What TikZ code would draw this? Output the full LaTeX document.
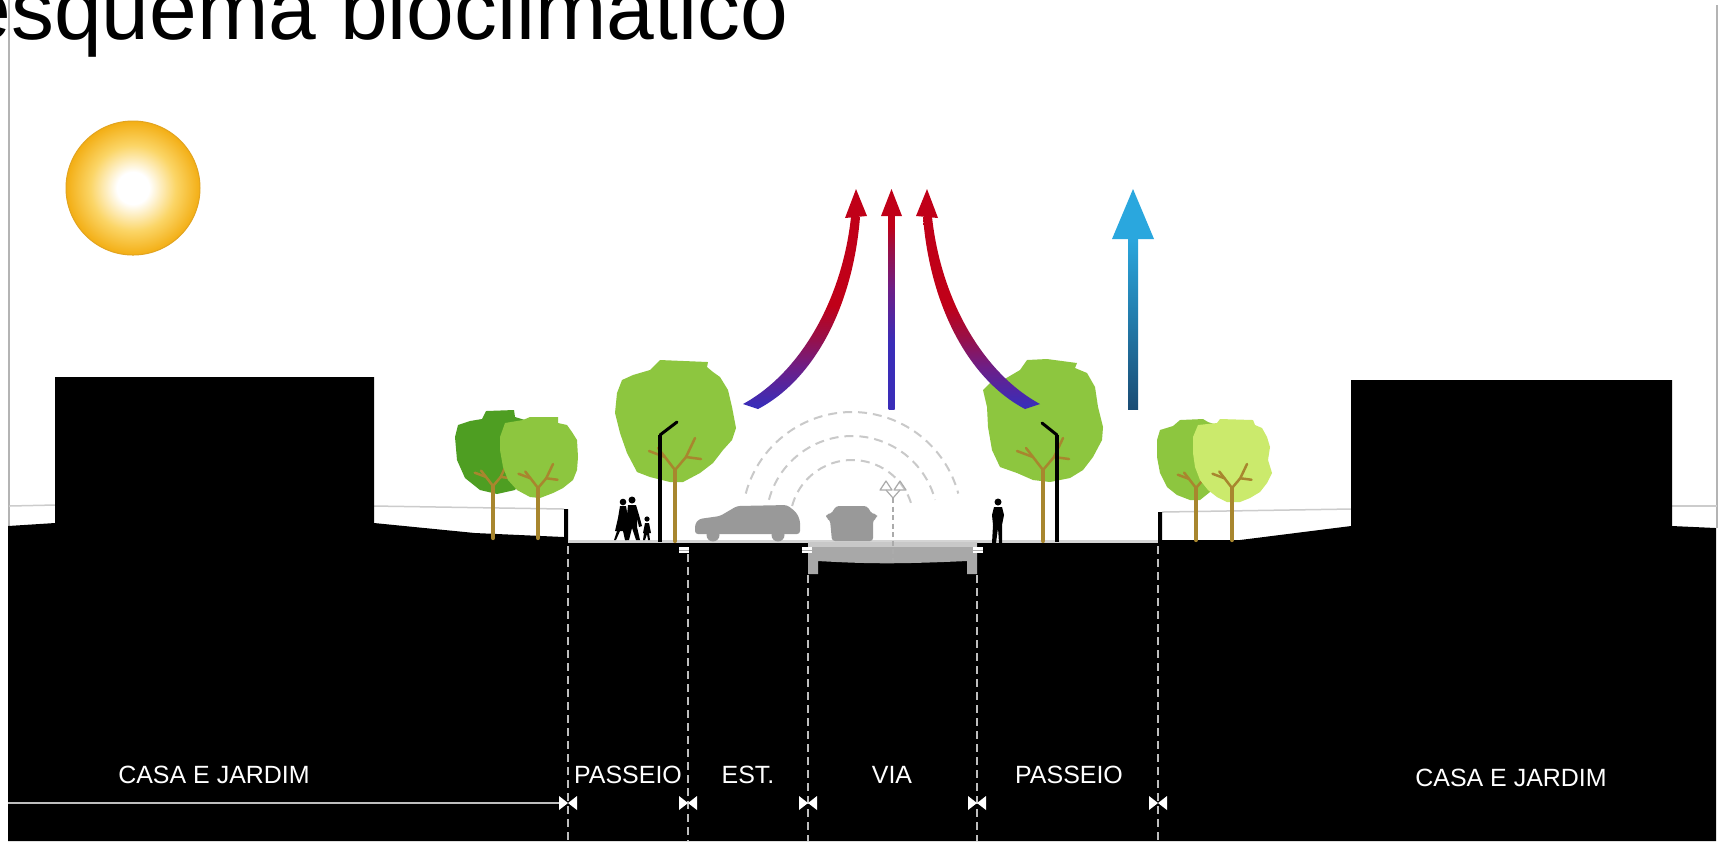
\documentclass[tikz,border=0pt]{standalone}
\usepackage{fontspec}
\setmainfont{Liberation Sans}
\usetikzlibrary{calc}

\definecolor{framegray}{HTML}{B4B4B4}
\definecolor{horizongray}{HTML}{CCCCCC}
\definecolor{dimgray}{HTML}{BEBEBE}
\definecolor{pavegray}{HTML}{D4D4D4}
\definecolor{slabgray}{HTML}{A8A8A8}
\definecolor{slabtop}{HTML}{C8C8C8}
\definecolor{cargray}{HTML}{999999}
\definecolor{wavegray}{HTML}{C9C9C9}
\definecolor{lampgray}{HTML}{ABABAB}
\definecolor{leafdark}{HTML}{4E9E22}
\definecolor{leafmid}{HTML}{8DC63F}
\definecolor{leaflight}{HTML}{CBEA6C}
\definecolor{trunkbrown}{HTML}{A8862E}
\definecolor{sunmid}{HTML}{FBD566}
\definecolor{sunedge}{HTML}{F3AE14}
\definecolor{sunrim}{HTML}{E2A420}
\definecolor{heatred}{HTML}{C00018}
\definecolor{heatwine}{HTML}{9A0F45}
\definecolor{heatmid}{HTML}{6E1E86}
\definecolor{heatblue}{HTML}{3A2DB8}
\definecolor{coolsky}{HTML}{2AA7DE}
\definecolor{cooldeep}{HTML}{1A4C74}

\pgfdeclareradialshading{sunglow}{\pgfpoint{0bp}{0bp}}{%
  color(0bp)=(white); color(6bp)=(white); color(16bp)=(sunmid);
  color(25bp)=(sunedge); color(50bp)=(sunedge)}
% warm air: blue at the foot, red over the upper half
\pgfdeclareverticalshading{heatrise}{100bp}{%
  color(0bp)=(heatblue); color(26bp)=(heatblue); color(36bp)=(heatmid);
  color(44bp)=(heatwine); color(52bp)=(heatred); color(100bp)=(heatred)}
\pgfdeclareverticalshading{heatcore}{100bp}{%
  color(0bp)=(heatblue); color(42bp)=(heatblue); color(56bp)=(heatmid);
  color(66bp)=(heatwine); color(72bp)=(heatred); color(100bp)=(heatred)}

\tikzset{
  groundfill/.style={fill=black},
  frameline/.style={draw=framegray, line width=0.2mm},
  horizonline/.style={draw=horizongray, line width=0.15mm},
  dimdash/.style={draw=dimgray, line width=0.13mm, dash pattern=on 0.8mm off 0.5mm},
  dimtick/.style={fill=white},
  zonelabel/.style={text=white, font=\fontsize{7.1pt}{8pt}\selectfont, inner sep=0pt},
  trunkline/.style={draw=trunkbrown, line width=0.42mm, line cap=round},
  twigline/.style={draw=trunkbrown, line width=0.25mm, line cap=round, line join=round},
  lamppole/.style={draw=black, line width=0.4mm},
  lamparm/.style={draw=black, line width=0.3mm, line cap=round},
  figure/.style={fill=black},
  carbody/.style={fill=cargray, rounded corners=0.3mm},
  wave/.style={draw=wavegray, line width=0.2mm, dash pattern=on 0.9mm off 0.6mm},
  lampline/.style={draw=lampgray, line width=0.12mm},
  coolshaft/.style={top color=coolsky, bottom color=cooldeep},
}

% forked branches of a tree: fork point (x,y) and size factor
\newcommand{\treebranches}[3]{%
  \draw[twigline] (#1,#2) -- ++(-10*#3,-13*#3) -- ++(-7*#3,-9*#3);
  \draw[twigline] ($(#1,#2)+(-10*#3,-13*#3)$) -- ++(-16*#3,-6*#3);
  \draw[twigline] (#1,#2) -- ++(11*#3,-13*#3) -- ++(9*#3,-19*#3);
  \draw[twigline] ($(#1,#2)+(11*#3,-13*#3)$) -- ++(15*#3,2*#3);
}

\begin{document}
\begin{tikzpicture}[x=0.1mm, y=-0.1mm, line join=round]
\useasboundingbox (0,0) rectangle (1723,841);
\fill[white] (0,0) rectangle (1723,841);

% title
\node[anchor=base east, inner sep=0pt, font=\fontsize{24.4pt}{28pt}\selectfont]
  (title) at (789,39) {esquema bioclimatico};

% frame lines and horizon
\draw[frameline] (9,0) -- (9,526);
\draw[frameline] (1717,5) -- (1717,528);
\draw[horizonline] (9,506) -- (55,505);
\draw[horizonline] (374,506) -- (564,509);
\draw[horizonline] (1162,512) -- (1351,509);
\draw[horizonline] (1672,506) -- (1717,506);

% sun
\shade[shading=sunglow] (133,188) circle[radius=67];
\draw[sunrim, line width=0.1mm] (133,188) circle[radius=67];

% ground section with the two houses
\fill[groundfill] (8,841) -- (8,526) -- (55,523) -- (55,377) -- (374,377) -- (374,523)
  -- (475,533) -- (564,537) -- (564,509) -- (568,509) -- (568,543) -- (1158,543)
  -- (1158,512) -- (1162,512) -- (1162,540) -- (1240,540) -- (1351,526) -- (1351,380)
  -- (1672,380) -- (1672,526) -- (1716,528) -- (1716,841) -- cycle;

% paving surface
\draw[pavegray, line width=0.25mm] (568,541.5) -- (1158,541.5);

% road slab
\fill[slabgray] (808,542) -- (977,542) -- (977,574) -- (967,574) -- (967,561)
  .. controls (900,564) and (870,564) .. (818,561) -- (818,574) -- (808,574) -- cycle;
\fill[slabtop] (808,542) rectangle (977,547);

% curb fittings
\foreach \cx in {684,807,978}{
  \fill[white] (\cx-5,547) rectangle (\cx+5,553);
  \draw[lampgray, line width=0.08mm] (\cx-5,550) -- (\cx+5,550);
}

% zone boundaries
\draw[dimdash] (568,546) -- (568,841);
\draw[dimdash] (688,554) -- (688,841);
\draw[dimdash] (808,575) -- (808,841);
\draw[dimdash] (977,575) -- (977,841);
\draw[dimdash] (1158,546) -- (1158,841);
\draw[dimgray, line width=0.2mm] (8,803) -- (566,803);
\foreach \tx in {568,688,808,977,1158}{
  \fill[dimtick] (\tx-9,796) -- (\tx,803) -- (\tx-9,810) -- cycle
                 (\tx+9,796) -- (\tx,803) -- (\tx+9,810) -- cycle;
}

% zone labels
\node[zonelabel] (casaL) at (214,775) {CASA E JARDIM};
\node[zonelabel] (passeioL) at (628,775) {PASSEIO};
\node[zonelabel] (est) at (748,775) {EST.};
\node[zonelabel] (via) at (892,775) {VIA};
\node[zonelabel] (passeioR) at (1069,775) {PASSEIO};
\node[zonelabel] (casaR) at (1511,778) {CASA E JARDIM};

% sound waves over the road
\foreach \r in {62,86,110}{
  \draw[wave] (852,522) ++(-165:\r) arc[start angle=-165, end angle=-15, radius=\r];
}

% central road lamp
\draw[lampline, dash pattern=on 0.5mm off 0.35mm] (893,498) -- (893,561);
\draw[lampline] (886,490) -- (893,498) -- (900,490);
\draw[lampline] (886,481) -- (880,490) -- (892,490) -- cycle;
\draw[lampline] (900,481) -- (894,490) -- (906,490) -- cycle;

% trees behind the left wall
\fill[leafdark] (455,437) -- (458,425) -- (470,421) -- (482,419) -- (486,411) -- (514,410)
  -- (515,417) -- (525,420) -- (530,440) -- (528,470) -- (515,490) -- (497,494)
  -- (480,490) -- (465,478) -- (457,460) -- cycle;
\draw[trunkline] (493,538) -- (493,486);
\treebranches{493}{486}{0.7}
\fill[leafmid] (500,437) -- (505,423) -- (523,420) -- (530,417) -- (558,417) -- (558,423)
  -- (567,425) -- (572,432) -- (577,440) -- (578,457) -- (577,470) -- (573,480)
  -- (563,488) -- (553,493) -- (540,498) -- (530,497) -- (517,490) -- (508,480)
  -- (503,467) -- (500,450) -- cycle;
\draw[trunkline] (538,538) -- (538,488);
\treebranches{538}{488}{0.75}

% large tree on the left sidewalk
\fill[leafmid] (617,393) -- (622,380) -- (633,375) -- (650,370) -- (660,360) -- (708,362)
  -- (707,367) -- (713,372) -- (720,377) -- (728,390) -- (732,407) -- (736,428)
  -- (732,440) -- (723,450) -- (713,463) -- (700,473) -- (683,482) -- (670,482)
  -- (650,477) -- (637,472) -- (627,453) -- (620,433) -- (615,413) -- cycle;
\draw[trunkline] (675,541) -- (675,470);
\treebranches{675}{470}{1}

% large tree on the right sidewalk
\fill[leafmid] (983,390) -- (990,383) -- (1003,380) -- (1020,370) -- (1027,360) -- (1047,359)
  -- (1077,363) -- (1075,368) -- (1087,373) -- (1095,387) -- (1098,407) -- (1103,427)
  -- (1102,440) -- (1093,457) -- (1083,470) -- (1070,478) -- (1050,482) -- (1033,480)
  -- (1017,473) -- (1000,467) -- (992,450) -- (988,427) -- (987,407) -- cycle;
\draw[trunkline] (1043,541) -- (1043,470);
\treebranches{1043}{470}{1}

% trees behind the right wall
\fill[leafmid] (1157,440) -- (1160,430) -- (1173,426) -- (1180,420) -- (1203,419) -- (1208,422)
  -- (1217,425) -- (1225,445) -- (1225,480) -- (1200,500) -- (1190,500) -- (1177,495)
  -- (1167,487) -- (1160,473) -- (1157,457) -- cycle;
\draw[trunkline] (1196,540) -- (1196,488);
\treebranches{1196}{488}{0.7}
\fill[leaflight] (1193,437) -- (1198,425) -- (1217,423) -- (1220,419) -- (1253,420) -- (1255,425)
  -- (1262,428) -- (1267,437) -- (1270,447) -- (1268,460) -- (1272,473) -- (1267,483)
  -- (1260,492) -- (1250,498) -- (1240,502) -- (1227,502) -- (1217,497) -- (1208,490)
  -- (1200,480) -- (1195,467) -- (1193,453) -- cycle;
\draw[trunkline] (1232,540) -- (1232,488);
\treebranches{1232}{488}{0.75}

% street lamps
\draw[lamppole] (660,435) -- (660,542);
\draw[lamparm] (660,435) -- (677,422);
\draw[lamppole] (1057,435) -- (1057,542);
\draw[lamparm] (1057,435) -- (1042,423);

% pedestrians
\fill[figure] (623,502) circle[radius=3.3];
\fill[figure] (620,506) -- (626,506) -- (628,518) -- (630,531) -- (627,531) -- (627,540)
  -- (625,540) -- (623,531) -- (620,531) -- (616,540) -- (614,540) -- (617,531)
  -- (615,531) -- (618,518) -- cycle;
\fill[figure] (632,500) circle[radius=3.5];
\fill[figure] (628,505) -- (636,505) -- (639,515) -- (642,526) -- (639,527) -- (637,518)
  -- (637,527) -- (640,540) -- (636,540) -- (632,528) -- (629,540) -- (625,540)
  -- (628,527) -- (627,515) -- cycle;
\fill[figure] (647,519) circle[radius=2.6];
\fill[figure] (645,523) -- (649,523) -- (651,533) -- (649,533) -- (650,540) -- (648,540)
  -- (647,534) -- (645,540) -- (643,540) -- (644,533) -- (643,533) -- cycle;
\fill[figure] (998,502) circle[radius=3.5];
\fill[figure] (994,507) -- (1002,507) -- (1004,515) -- (1002,525) -- (1002,543) -- (999,543)
  -- (998,528) -- (996,543) -- (992,543) -- (993,525) -- (992,515) -- cycle;

% parked car (side view)
\fill[carbody] (695,534) -- (695,524) -- (699,519) -- (720,516) -- (737,506) -- (787,505)
  -- (796,512) -- (800,520) -- (800,534) -- cycle;
\fill[cargray] (713,535) circle[radius=6.5];
\fill[cargray] (778,535) circle[radius=6.5];
% moving car (rear view)
\fill[carbody] (832,541) -- (830,520) -- (826,518) -- (826,514) -- (831,514) -- (836,506)
  -- (867,506) -- (872,514) -- (877,514) -- (877,518) -- (873,520) -- (873,541) -- cycle;

% warm air rising from the street
\shade[shading=heatrise] (743,404) .. controls (800,373) and (842,300) .. (851,217) -- (860,217)
  .. controls (853,305) and (815,379) .. (758,409) -- cycle;
\fill[heatred] (856,189) -- (867,216) -- (845,218) -- cycle;
\shade[shading=heatcore] (888.5,214) rectangle (894.5,409);
\fill[heatred] (891.5,189) -- (902,216) -- (881,216) -- cycle;
\shade[shading=heatrise] (1040,404) .. controls (983,373) and (941,300) .. (932,217) -- (923,217)
  .. controls (930,305) and (968,379) .. (1025,409) -- cycle;
\fill[heatred] (927,189) -- (938,218) -- (916,216) -- cycle;

% cool air column
\shade[coolshaft] (1128,237) rectangle (1138,409);
\fill[coolsky] (1133,189) -- (1154,239) -- (1112,239) -- cycle;
\end{tikzpicture}
\end{document}
